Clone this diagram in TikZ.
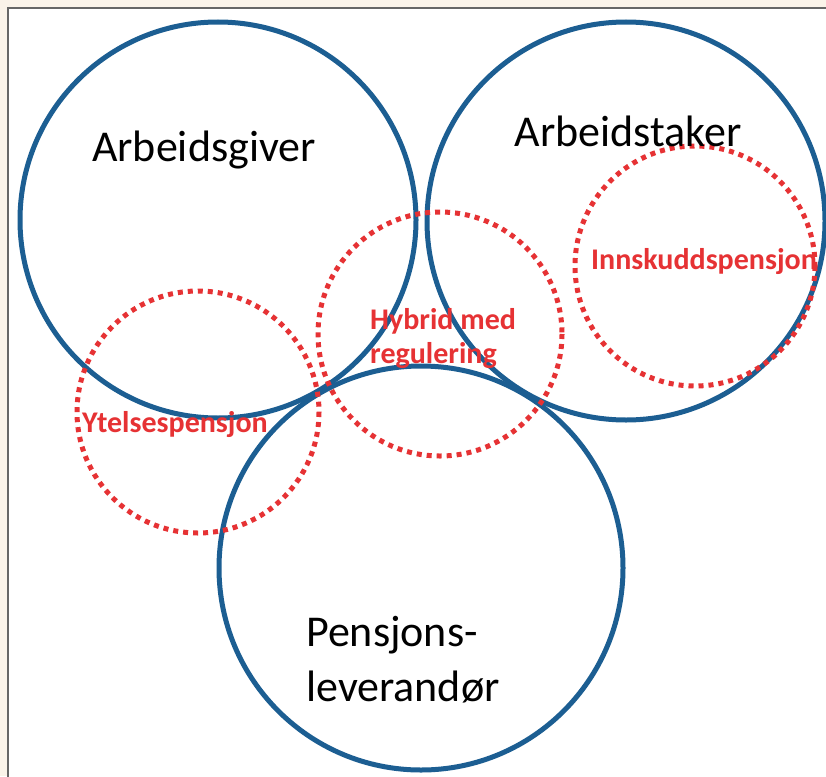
\documentclass[tikz,border=0pt]{standalone}
\usepackage{fontspec}
\setmainfont{Carlito}
\definecolor{ringblue}{RGB}{28,94,146}
\definecolor{planred}{RGB}{230,50,52}
\definecolor{paper}{RGB}{250,243,233}
\tikzset{
	party/.style={draw=ringblue, line width=5pt},
	plan/.style={draw=planred, line width=5pt, dash pattern=on 5pt off 5pt},
	partytext/.style={font=\fontsize{44}{55}\selectfont, text=black, inner sep=0pt},
	plantext/.style={font=\fontsize{30}{34}\selectfont\bfseries, text=planred, inner sep=0pt},
}

\begin{document}
\begin{tikzpicture}[x=1pt, y=-1pt]
	\useasboundingbox (0,0) rectangle (826,776);
	\fill[paper] (0,0) rectangle (826,776);
	\draw[fill=white, draw=black!60, line width=2pt] (8,8) rectangle (840,790);
	% the three parties
	\coordinate (giver)  at (218,220);
	\coordinate (taker)  at (626,221);
	\coordinate (levr)   at (421,568);
	\draw[party] (giver) circle (198);
	\draw[party] (taker) circle (199);
	\draw[party] (levr)  circle (202);
	% the pension plans
	\coordinate (ytel)   at (198,412);
	\coordinate (hyb)    at (440,334);
	\coordinate (innsk)  at (695,266);
	\draw[plan] (ytel)  circle (121);
	\draw[plan] (hyb)   circle (122);
	\draw[plan] (innsk) circle (120);
	\node[partytext] (tgiver) at (204,150) {Arbeidsgiver};
	\node[partytext] (ttaker) at (628,131) {Arbeidstaker};
	\node[partytext, align=left, anchor=west] (tlevr) at (306,660) {Pensjons-\\leverandør};
	\node[plantext] (tytel) at (175,425) {Ytelsespensjon};
	\node[plantext, align=left, anchor=west] (thyb) at (370,339) {Hybrid med\\regulering};
	\node[plantext] (tinnsk) at (704,262) {Innskuddspensjon};
\end{tikzpicture}
\end{document}
